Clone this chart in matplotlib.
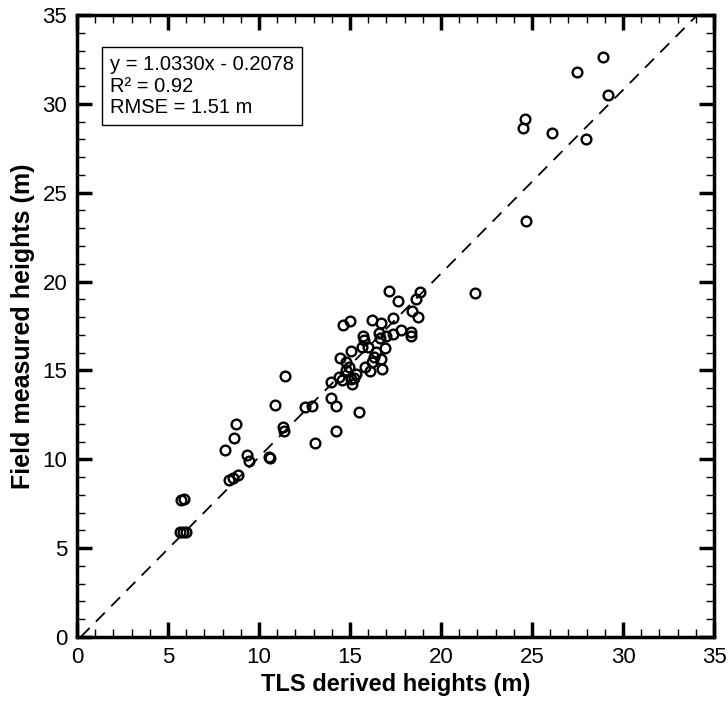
import numpy as np
import matplotlib
matplotlib.use("Agg")
import matplotlib.pyplot as plt
from matplotlib.ticker import MultipleLocator

# TLS derived heights (x) vs field measured heights (y), in metres
tls_heights = [
    28.92, 27.47, 29.19, 24.59, 24.53, 26.11, 27.98, 24.66, 21.85,
    17.16, 17.65, 18.82, 18.64, 18.42, 18.71, 14.62, 14.99, 16.19,
    16.69, 17.36, 17.82, 18.35, 18.35, 17.36, 16.99, 16.59, 16.63,
    15.72, 15.76, 15.68, 16.01, 16.92, 16.41, 15.04, 14.44, 16.32,
    16.69, 16.23, 15.83, 16.12, 16.74, 14.95, 14.77, 15.32, 14.40,
    14.58, 15.04, 15.13, 13.98, 11.45, 13.98, 14.22, 12.91, 12.54,
    10.90, 15.50, 11.34, 11.39, 14.22, 13.05, 8.75, 8.60, 8.12,
    9.33, 9.47, 10.53, 10.61, 8.34, 8.56, 8.83, 5.73, 5.88,
    5.68, 5.82, 5.97, 14.79, 15.23,
]
field_heights = [
    32.66, 31.78, 30.50, 29.15, 28.63, 28.35, 28.01, 23.41, 19.35,
    19.49, 18.91, 19.41, 19.00, 18.36, 17.99, 17.56, 17.78, 17.84,
    17.65, 17.93, 17.28, 17.16, 16.94, 17.03, 16.94, 17.09, 16.81,
    16.96, 16.71, 16.30, 16.34, 16.28, 16.06, 16.09, 15.72, 15.74,
    15.63, 15.49, 15.18, 14.99, 15.06, 15.21, 15.03, 14.80, 14.65,
    14.46, 14.50, 14.24, 14.35, 14.69, 13.43, 13.02, 13.00, 12.93,
    13.06, 12.68, 11.83, 11.61, 11.61, 10.92, 11.99, 11.18, 10.52,
    10.23, 9.89, 10.15, 10.06, 8.84, 8.93, 9.12, 7.71, 7.75,
    5.89, 5.89, 5.89, 15.48, 14.58,
]

slope = 1.0330
intercept = -0.2078
r2 = 0.92
rmse = 1.51

narrow = ['Liberation Sans Narrow', 'Liberation Sans', 'DejaVu Sans']
plt.rcParams['font.family'] = ['Liberation Sans', 'DejaVu Sans']

fig = plt.figure(figsize=(7.28, 7.04), dpi=100)
ax = fig.add_axes([77 / 728, 1 - 637 / 704, 637 / 728, 622 / 704])

ax.plot(tls_heights, field_heights, 'o', mfc='none', mec='black',
        markersize=7, mew=1.7, zorder=3)

# fitted line, drawn from y = 0 up to y = 35
x_line = np.array([-intercept / slope, (35 - intercept) / slope])
ax.plot(x_line, slope * x_line + intercept, color='black', lw=1.3,
        dashes=(7, 5), zorder=2)

ax.set_xlim(0, 35)
ax.set_ylim(0, 35)
ax.xaxis.set_major_locator(MultipleLocator(5))
ax.yaxis.set_major_locator(MultipleLocator(5))
ax.xaxis.set_minor_locator(MultipleLocator(1))
ax.yaxis.set_minor_locator(MultipleLocator(1))
ax.tick_params(which='both', direction='in', top=True, right=True)
ax.tick_params(which='major', length=11, width=2.5, labelsize=16, pad=7)
ax.tick_params(which='minor', length=6, width=1)
for lab in ax.get_xticklabels() + ax.get_yticklabels():
    lab.set_family(narrow)
for sp in ax.spines.values():
    sp.set_linewidth(2.5)

ax.set_xlabel('TLS derived heights (m)', fontsize=17, fontweight='bold',
              family=narrow, labelpad=4)
ax.set_ylabel('Field measured heights (m)', fontsize=18, fontweight='bold',
              labelpad=5)

label = (f'y = {slope:.4f}x - {abs(intercept):.4f}\n'
         f'R\u00b2 = {r2:.2f}\nRMSE = {rmse:.2f} m')
ax.text(0.052, 0.935, label, transform=ax.transAxes, fontsize=14.5,
        va='top', ha='left', linespacing=1.15,
        bbox=dict(boxstyle='square,pad=0.4', fc='white', ec='black', lw=1))

fig.savefig('out.png', dpi=100)
